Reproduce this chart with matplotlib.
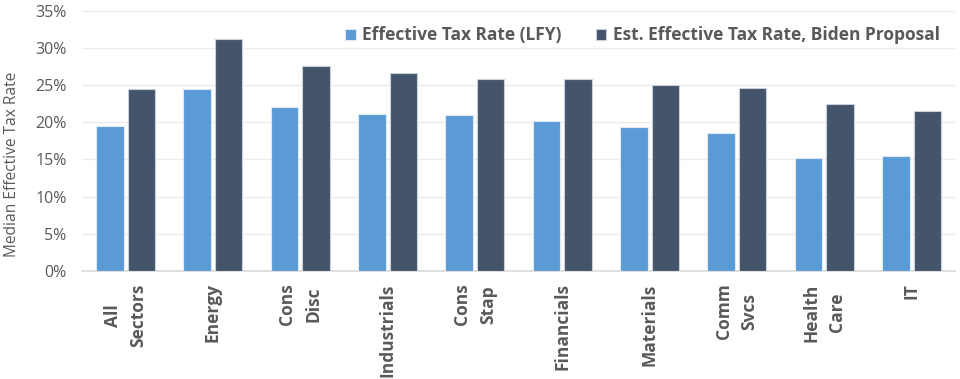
import numpy as np
import matplotlib.pyplot as plt

sectors = ["All\nSectors", "Energy", "Cons\nDisc", "Industrials", "Cons\nStap",
           "Financials", "Materials", "Comm\nSvcs", "Health\nCare", "IT"]
effective_lfy = [19.5, 24.5, 22.1, 21.1, 21.0, 20.2, 19.4, 18.5, 15.2, 15.5]
biden_proposal = [24.4, 31.2, 27.6, 26.6, 25.8, 25.8, 25.0, 24.6, 22.5, 21.5]

text_color = "#595959"
plt.rcParams["font.family"] = ["Open Sans", "DejaVu Sans"]

fig = plt.figure(figsize=(9.6, 3.79), dpi=100)
ax = fig.add_axes([0.0854, 0.285, 0.9096, 0.687])

x = np.arange(len(sectors))
w = 0.315
ax.bar(x - 0.18, effective_lfy, w, color="#5B9BD5", edgecolor="#dfe9f5",
       linewidth=0.8, label="Effective Tax Rate (LFY)", zorder=3)
ax.bar(x + 0.18, biden_proposal, w, color="#44546A", edgecolor="#c9d0da",
       linewidth=0.8, label="Est. Effective Tax Rate, Biden Proposal", zorder=3)

ax.set_xlim(-0.5, len(sectors) - 0.5)
ax.set_ylim(0, 35)
ax.set_yticks(range(0, 36, 5))
ax.set_yticklabels([f"{v}%" for v in range(0, 36, 5)], fontsize=11.5, color=text_color)
ax.yaxis.grid(True, color="#ececec", linewidth=1, zorder=0)
ax.tick_params(axis="both", length=0)
ax.tick_params(axis="y", pad=11)

ax.set_xticks(x)
ax.set_xticklabels(sectors, rotation=90, fontsize=12.5, fontweight="bold",
                   color=text_color, multialignment="center", linespacing=1.55)
ax.tick_params(axis="x", pad=9)

for side in ["top", "right", "left"]:
    ax.spines[side].set_visible(False)
ax.spines["bottom"].set_color("#d9d9d9")
ax.spines["bottom"].set_linewidth(1.2)

ax.set_ylabel("Median Effective Tax Rate", fontsize=11.2, color=text_color)
ax.yaxis.set_label_coords(-0.071, 0.41)

leg = ax.legend(loc="upper right", bbox_to_anchor=(1.0, 1.0), ncol=2, frameon=False,
                handlelength=0.6, handleheight=0.6, handletextpad=0.35,
                columnspacing=2.0, prop={"size": 12.5, "weight": "bold"})
for t in leg.get_texts():
    t.set_color(text_color)

fig.savefig("out.png", dpi=100)
